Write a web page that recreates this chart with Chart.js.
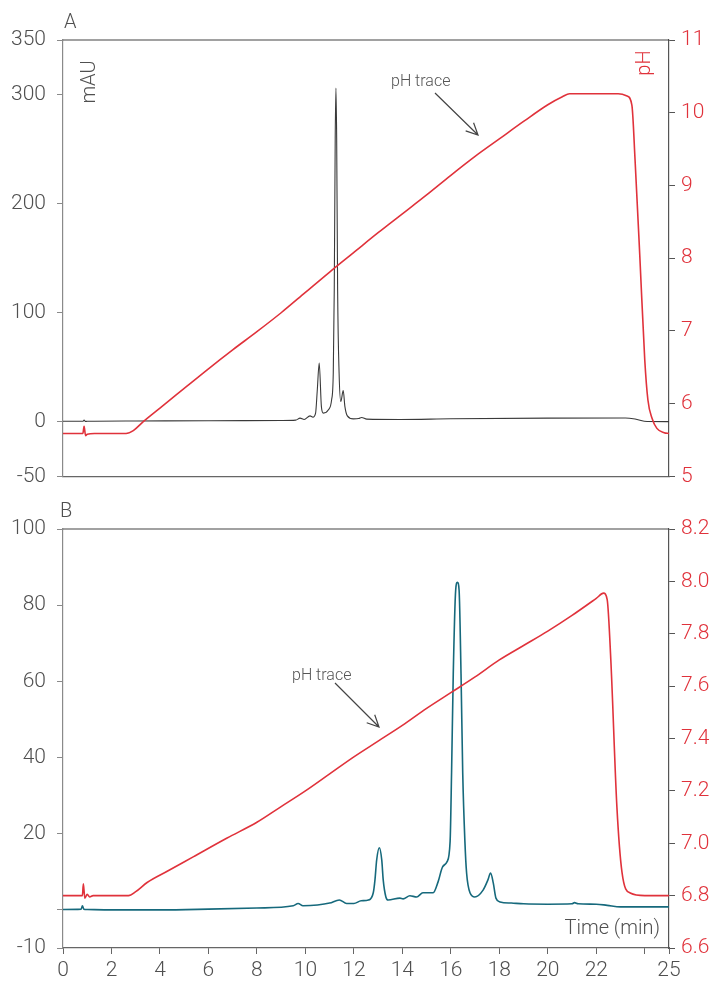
<!DOCTYPE html>
<html>
<head>
<meta charset="utf-8">
<script src="https://cdn.jsdelivr.net/npm/chart.js@4.4.1/dist/chart.umd.min.js"></script>
<style>
  html, body { margin: 0; padding: 0; background: #fff; }
  #wrap { position: relative; width: 712px; height: 984px; }
  .panel { position: absolute; left: 0; width: 712px; }
  #pa { top: 0; height: 500px; z-index: 2; }
  #pb { top: 490px; height: 494px; z-index: 1; }
</style>
</head>
<body>
<div id="wrap">
  <div class="panel" id="pa"><canvas id="ca"></canvas></div>
  <div class="panel" id="pb"><canvas id="cb"></canvas></div>
</div>
<script>
// ---- Panel A: UV absorbance (mAU) and pH versus time (min) ----
const absorbanceA = [
  [0, 0.5], [0.82, 0.5], [0.87, 1.6], [0.92, 0.4], [1.0, 0.5], [3, 0.8], [6, 1.0], [9, 1.3],
  [9.6, 1.6], [9.78, 3.4], [9.95, 2.2], [10.19, 5.5], [10.31, 4.3], [10.42, 8], [10.49, 29],
  [10.57, 54], [10.66, 14], [10.74, 8], [10.95, 11], [11.08, 20], [11.15, 45], [11.19, 120],
  [11.23, 260], [11.26, 306], [11.29, 260], [11.33, 120], [11.39, 45], [11.46, 18.6],
  [11.56, 28.7], [11.63, 14], [11.73, 5.5], [11.98, 2.7], [12.2, 3], [12.32, 4], [12.53, 2.5],
  [13.9, 2.2], [16, 2.8], [20, 3.4], [23.2, 3.5], [23.6, 2.6], [24.1, 0.3], [25, 0.2]
];
const pHA = [
  [0, 5.59], [0.82, 5.59], [0.87, 5.69], [0.93, 5.56], [1.0, 5.58], [1.3, 5.59], [2.6, 5.59],
  [2.9, 5.63], [3.3, 5.75], [4, 5.94], [5, 6.21], [6, 6.48], [7, 6.74], [8, 6.99], [9, 7.25],
  [10, 7.53], [11, 7.81], [12, 8.08], [13, 8.35], [14, 8.61], [15, 8.87], [16, 9.14],
  [17, 9.40], [18, 9.64], [19, 9.88], [20, 10.11], [20.6, 10.22], [20.9, 10.26],
  [22.9, 10.26], [23.27, 10.23], [23.47, 10.1], [23.6, 9.35], [23.8, 8.0],
  [24.0, 6.6], [24.13, 6.05], [24.3, 5.8], [24.5, 5.66], [24.8, 5.6], [25, 5.59]
];
const leftTicksA = [-50, 0, 100, 200, 300, 350];
const rightTicksA = [5, 6, 7, 8, 9, 10, 11];

// ---- Panel B ----
const absorbanceB = [
  [0, 0.1], [0.75, 0.2], [0.8, 1.1], [0.86, 0.2], [1, 0.1], [2, 0], [4, 0], [6, 0.2], [8, 0.5],
  [9.5, 1.1], [9.7, 1.7], [9.9, 1.1], [10.5, 1.3], [11, 1.8], [11.4, 2.6], [11.7, 1.7],
  [12.0, 1.7], [12.3, 2.4], [12.6, 2.6], [12.8, 4.5], [12.87, 7.9], [12.94, 13.1], [13.05, 16.3],
  [13.15, 13.1], [13.21, 7.9], [13.32, 3.4], [13.41, 2.6], [13.9, 3.1], [14.03, 2.9],
  [14.31, 3.7], [14.59, 3.4], [14.85, 4.5], [15.27, 4.5], [15.47, 7.3], [15.66, 11.3],
  [15.84, 12.6], [15.97, 18], [16.03, 36], [16.1, 62], [16.2, 84], [16.27, 86], [16.34, 84],
  [16.42, 62], [16.49, 36], [16.58, 18], [16.65, 9.7], [16.79, 4.5], [16.99, 3.4],
  [17.33, 5.2], [17.53, 7.9], [17.64, 9.7], [17.75, 7.1], [17.86, 3.1], [18.03, 2.1],
  [18.5, 1.8], [19, 1.6], [20, 1.5], [21.0, 1.6], [21.1, 1.9], [21.25, 1.6], [22, 1.5],
  [22.45, 1.2], [23, 0.8], [25, 0.8]
];
const pHB = [
  [0, 6.80], [0.8, 6.80], [0.84, 6.845], [0.9, 6.79], [1.0, 6.805], [1.1, 6.795], [1.24, 6.80],
  [2.7, 6.80], [3.0, 6.815], [3.47, 6.85], [4.3, 6.893], [5.37, 6.948], [6.77, 7.02], [8.0, 7.08],
  [9, 7.14], [10, 7.20], [11, 7.265], [12, 7.33], [13, 7.39], [14, 7.45], [15, 7.515],
  [16, 7.575], [17, 7.635], [18, 7.70], [19, 7.755], [20, 7.81], [21, 7.87], [22, 7.935],
  [22.3, 7.955], [22.45, 7.93], [22.6, 7.7], [22.85, 7.14], [23.06, 6.89],
  [23.4, 6.81], [24, 6.8], [25, 6.8]
];
const leftTicksB = [-10, 0, 20, 40, 60, 80, 100];
const rightTicksB = [6.6, 6.8, 7.0, 7.2, 7.4, 7.6, 7.8, 8.0, 8.2];
const timeTicks = [0, 2, 4, 6, 8, 10, 12, 14, 16, 18, 20, 22, 24, 25];

const FONT = 'Roboto';
const GRAY = '#505050';
const RED = '#e0323b';
const BLACK = '#3a3a3a';
const TEAL = '#16697c';

Chart.defaults.font.family = FONT;
Chart.defaults.font.weight = 300;

const toXY = arr => arr.map(p => ({ x: p[0], y: p[1] }));
const setTicks = list => s => { s.ticks = list.map(v => ({ value: v })); };

function leftAxis(min, max, list, hideZero) {
  return {
    position: 'left', min, max,
    afterBuildTicks: setTicks(list),
    afterFit: s => { s.width = 63; },
    ticks: {
      color: GRAY, padding: 11, font: { size: 21, weight: 300 },
      callback: v => (hideZero && v === 0) ? '' : String(v)
    },
    grid: { drawOnChartArea: false, drawTicks: true, tickLength: 6, color: '#8a8a8a', lineWidth: 1 },
    border: { display: true, color: '#8a8a8a', width: 1.2 }
  };
}
function rightAxis(min, max, list, decimals) {
  return {
    position: 'right', min, max,
    afterBuildTicks: setTicks(list),
    afterFit: s => { s.width = 43; },
    ticks: {
      color: RED, padding: 6, font: { size: 21, weight: 300 },
      callback: v => v.toFixed(decimals)
    },
    grid: { drawOnChartArea: false, drawTicks: true, tickLength: 6, color: '#555', lineWidth: 1 },
    border: { display: true, color: '#555', width: 1.2 }
  };
}

function drawArrow(ctx, x0, y0, x1, y1) {
  const a = Math.atan2(y1 - y0, x1 - x0);
  const len = 13, spread = 0.45;
  ctx.save();
  ctx.strokeStyle = '#444';
  ctx.lineWidth = 1.2;
  ctx.beginPath();
  ctx.moveTo(x0, y0); ctx.lineTo(x1, y1);
  ctx.moveTo(x1 - len * Math.cos(a - spread), y1 - len * Math.sin(a - spread));
  ctx.lineTo(x1, y1);
  ctx.lineTo(x1 - len * Math.cos(a + spread), y1 - len * Math.sin(a + spread));
  ctx.stroke();
  ctx.restore();
}

function rotatedText(ctx, txt, cx, cy, color, size) {
  ctx.save();
  ctx.translate(cx, cy);
  ctx.rotate(-Math.PI / 2);
  ctx.fillStyle = color;
  ctx.font = `300 ${size}px ${FONT}`;
  ctx.textAlign = 'center';
  ctx.textBaseline = 'middle';
  ctx.fillText(txt, 0, 0);
  ctx.restore();
}

// Frame top line, panel letter, axis captions and the pH-trace callout
function decorations(cfg) {
  return {
    id: 'decor',
    afterDraw(chart) {
      const { ctx, chartArea: ca } = chart;
      ctx.save();
      ctx.strokeStyle = '#444';
      ctx.lineWidth = 1.2;
      ctx.beginPath();
      ctx.moveTo(ca.left, ca.top); ctx.lineTo(ca.right, ca.top);
      ctx.stroke();

      ctx.fillStyle = GRAY;
      ctx.font = `300 20px ${FONT}`;
      ctx.textAlign = 'left';
      ctx.textBaseline = 'alphabetic';
      ctx.fillText(cfg.letter, cfg.letterX, cfg.letterY);

      ctx.font = `300 16px ${FONT}`;
      ctx.fillStyle = '#555';
      ctx.fillText('pH trace', cfg.noteX, cfg.noteY);
      drawArrow(ctx, cfg.arrow[0], cfg.arrow[1], cfg.arrow[2], cfg.arrow[3]);

      if (cfg.axisTitles) {
        rotatedText(ctx, 'mAU', 90, 82, GRAY, 20);
        rotatedText(ctx, 'pH', 645, 63, RED, 20);
      }
      if (cfg.timeLabel) {
        ctx.font = `300 20px ${FONT}`;
        ctx.fillStyle = GRAY;
        ctx.textAlign = 'right';
        ctx.fillText('Time (min)', ca.right - 9, ca.bottom - 14);
      }
      ctx.restore();
    }
  };
}

const baseOpts = {
  responsive: true,
  maintainAspectRatio: false,
  animation: false,
  events: [],
  plugins: { legend: { display: false }, tooltip: { enabled: false } },
  elements: { point: { radius: 0 }, line: { borderJoinStyle: 'round', cubicInterpolationMode: 'monotone' } }
};

new Chart(document.getElementById('ca'), {
  type: 'line',
  data: {
    datasets: [
      { data: toXY(pHA), yAxisID: 'y2', borderColor: RED, borderWidth: 1.6 },
      { data: toXY(absorbanceA), yAxisID: 'y', borderColor: BLACK, borderWidth: 1.1 }
    ]
  },
  options: Object.assign({}, baseOpts, {
    layout: { padding: { top: 40, left: 0, right: 0, bottom: 0 } },
    scales: {
      x: {
        type: 'linear', min: 0, max: 25,
        afterFit: s => { s.height = 14; },
        ticks: { display: false },
        grid: { display: false, drawTicks: false },
        border: { display: true, color: '#666', width: 1.2 }
      },
      y: leftAxis(-50, 350, leftTicksA, false),
      y2: rightAxis(5, 11, rightTicksA, 0)
    }
  }),
  plugins: [decorations({
    letter: 'A', letterX: 64, letterY: 28,
    noteX: 391, noteY: 86, arrow: [435, 93, 478, 135],
    axisTitles: true, timeLabel: false
  })]
});

new Chart(document.getElementById('cb'), {
  type: 'line',
  data: {
    datasets: [
      { data: toXY(pHB), yAxisID: 'y2', borderColor: RED, borderWidth: 1.6 },
      { data: toXY(absorbanceB), yAxisID: 'y', borderColor: TEAL, borderWidth: 1.6 }
    ]
  },
  options: Object.assign({}, baseOpts, {
    layout: { padding: { top: 39, left: 0, right: 0, bottom: 0 } },
    scales: {
      x: {
        type: 'linear', min: 0, max: 25,
        afterBuildTicks: setTicks(timeTicks),
        afterFit: s => { s.height = 36; },
        ticks: {
          color: GRAY, padding: 4, font: { size: 21, weight: 300 }, maxRotation: 0, autoSkip: false,
          callback: v => v === 24 ? '' : String(v)
        },
        grid: { drawOnChartArea: false, drawTicks: true, tickLength: 6, color: '#666' },
        border: { display: true, color: '#666', width: 1.2 }
      },
      y: leftAxis(-10, 100, leftTicksB, true),
      y2: rightAxis(6.6, 8.2, rightTicksB, 1)
    }
  }),
  plugins: [decorations({
    letter: 'B', letterX: 60, letterY: 27,
    noteX: 292, noteY: 190, arrow: [335, 193, 379, 237],
    axisTitles: false, timeLabel: true
  })]
});
</script>
</body>
</html>
